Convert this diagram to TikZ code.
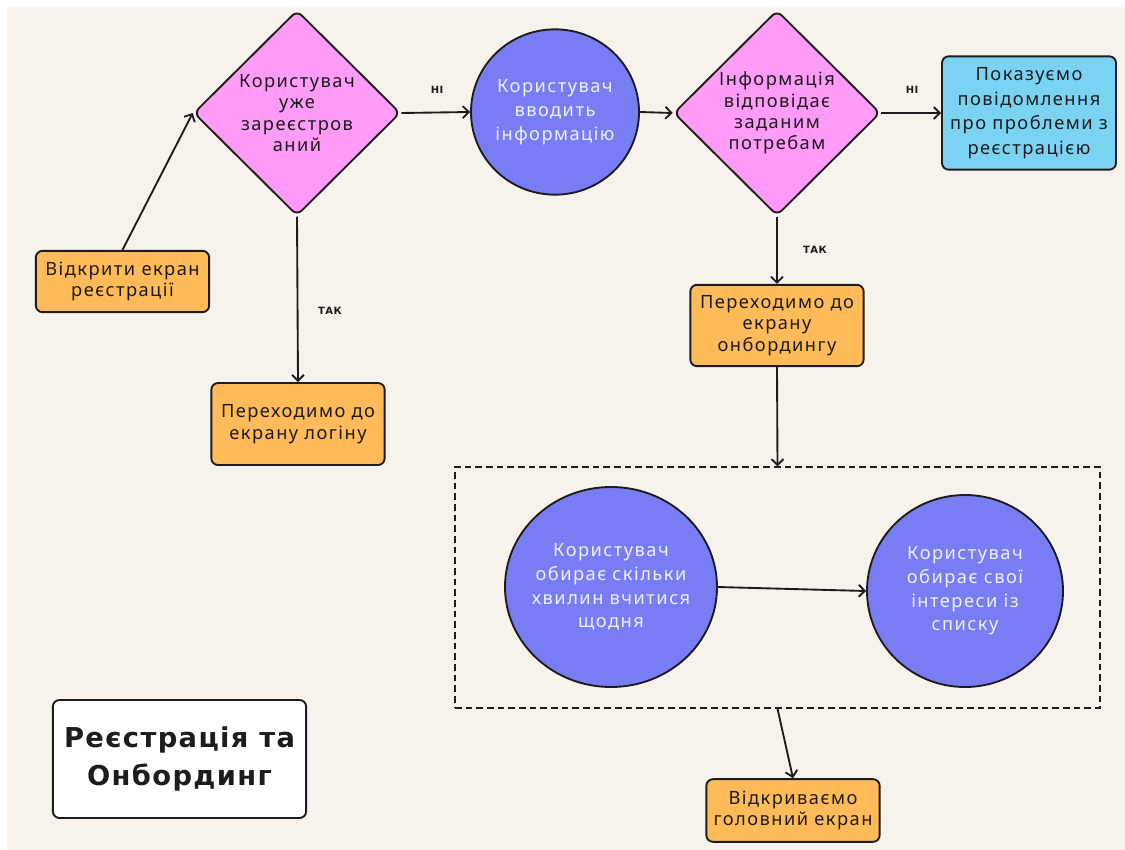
\documentclass[tikz,border=0pt]{standalone}
\usepackage{fontspec}
\setmainfont{Noto Sans}[LetterSpace=8]
\newfontfamily\titlefont{DejaVu Sans}[LetterSpace=5]
\newfontfamily\tagfont{DejaVu Sans}[LetterSpace=4]
\usetikzlibrary{shapes.geometric,arrows.meta}

\definecolor{paper}{HTML}{F7F3EC}
\definecolor{pinkfill}{HTML}{FF9BF8}
\definecolor{violetfill}{HTML}{787DF4}
\definecolor{skyfill}{HTML}{7BD3F4}
\definecolor{amberfill}{HTML}{FFBA59}
\definecolor{ink}{HTML}{1C1C1C}
\definecolor{pale}{HTML}{EEF0FF}

\tikzset{
  outline/.style={draw=ink, line width=1.4pt},
  box/.style={outline, rounded corners=5pt, align=center, inner sep=0pt,
    text=ink, font=\fontsize{13.7}{16}\selectfont},
  amberbox/.style={box, fill=amberfill, minimum width=130pt},
  decision/.style={diamond, outline, fill=pinkfill, rounded corners=5pt,
    inner sep=0pt, minimum width=155pt, minimum height=154pt},
  dtext/.style={align=center, text=ink, inner sep=0pt,
    font=\fontsize{13.7}{16}\selectfont},
  action/.style={ellipse, outline, fill=violetfill, inner sep=0pt},
  atext/.style={align=center, text=pale, inner sep=0pt,
    font=\fontsize{13.7}{17.8}\selectfont},
  tag/.style={text=ink, inner sep=0pt, font=\tagfont\bfseries\fontsize{7.5}{9}\selectfont},
  arr/.style={draw=ink, line width=1.4pt, -{Straight Barb[length=4.5pt,width=9pt]}},
  groupbox/.style={draw=ink, line width=1pt, dash pattern=on 5pt off 3pt,
    inner sep=0pt, minimum width=483.75pt, minimum height=180.75pt},
}

\begin{document}
\begin{tikzpicture}[x=0.75pt,y=-0.75pt]
  % page and paper
  \fill[white] (0,0) rectangle (1125,850);
  \fill[paper] (7,7) rectangle (1125,850);
  \useasboundingbox (0,0) rectangle (1125,850);

  % decisions
  \node[decision] (d1) at (297,113) {};
  \node[dtext] (d1t) at (d1) {Користувач\\уже\\зареєстров\\аний};
  \node[decision] (d2) at (777,113) {};
  \node[dtext] (d2t) at (d2) {Інформація\\відповідає\\заданим\\потребам};

  % user actions
  \node[action, minimum width=126pt, minimum height=124pt] (c1) at (555,112) {};
  \node[atext] (c1t) at (c1) {Користувач\\вводить\\інформацію};
  \node[action, minimum width=159pt, minimum height=150pt] (c2) at (611,587) {};
  \node[atext] (c2t) at (c2) {Користувач\\обирає скільки\\хвилин вчитися\\щодня};
  \node[action, minimum width=147pt, minimum height=144pt] (c3) at (965,591) {};
  \node[atext] (c3t) at (c3) {Користувач\\обирає свої\\інтереси із\\списку};

  % boxes
  \node[box, fill=skyfill, minimum width=130.5pt, minimum height=85pt,
        font=\fontsize{13.7}{18.4}\selectfont] (err) at (1029,113)
        {Показуємо\\повідомлення\\про проблеми з\\реєстрацією};
  \node[amberbox, minimum height=46pt] (open) at (122.5,281.5) {Відкрити екран\\реєстрації};
  \node[amberbox, minimum height=61.5pt] (login) at (298,424) {Переходимо до\\екрану логіну};
  \node[amberbox, minimum height=61pt] (onb) at (777,325.5) {Переходимо до\\екрану\\онбордингу};
  \node[amberbox, minimum height=47pt] (home) at (793,810.5) {Відкриваємо\\головний екран};

  % onboarding group
  \node[groupbox] (grp) at (777.5,587.5) {};

  % title
  \node[box, fill=white, minimum width=190pt, minimum height=88.5pt,
        font=\titlefont\bfseries\fontsize{20.5}{28.5}\selectfont] (title) at (179.5,759)
        {Реєстрація та\\Онбординг};

  % connectors
  \draw[arr] (open.north) -- (d1.west);
  \draw[arr] (d1.east) -- (c1.west);
  \draw[arr] (d1.south) -- (login.north);
  \draw[arr] (c1.east) -- (d2.west);
  \draw[arr] (d2.east) -- (err.west);
  \draw[arr] (d2.south) -- (onb.north);
  \draw[arr] (onb.south) -- (grp.north);
  \draw[arr] (c2.east) -- (c3.west);
  \draw[arr] (grp.south) -- (home.north);

  % branch tags
  \node[tag] (no1) at (437,90) {НІ};
  \node[tag] (no2) at (912,90) {НІ};
  \node[tag] (yes1) at (330,311) {ТАК};
  \node[tag] (yes2) at (815,250) {ТАК};
\end{tikzpicture}
\end{document}
